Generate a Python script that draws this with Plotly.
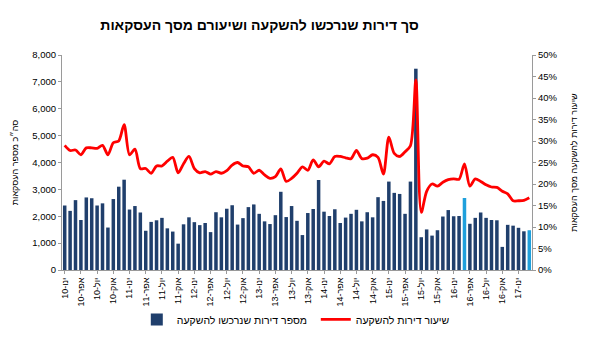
import plotly.graph_objects as go

month_names = ["ינו", "פבר", "מרץ", "אפר", "מאי", "יונ", "יול", "אוג", "ספט", "אוק", "נוב", "דצמ"]
years = ["10", "11", "12", "13", "14", "15", "16", "17"]
categories = [f"{m}-{y}" for y in years for m in month_names][:87]

investor_units = [
    2400, 2200, 2600, 1860, 2700, 2670, 2400, 2480, 1580, 2640, 3100, 3360,
    2250, 2380, 2140, 1460, 1790, 1850, 1940, 1550, 1430, 980, 1700, 1960,
    1780, 1670, 1750, 1410, 2150, 1960, 2280, 2410, 1690, 1930, 2340, 2440,
    2090, 1810, 1710, 2040, 2910, 1970, 2380, 1830, 1300, 2120, 2270, 3350,
    2170, 2010, 2260, 1750, 1950, 2090, 2240, 1810, 2150, 1960, 2710, 2570,
    3290, 2870, 2830, 2090, 3290, 7490, 1220, 1510, 1280, 1480, 1990, 2230,
    2000, 2010, 2680, 1720, 1940, 2140, 1940, 1860, 1850, 860, 1680, 1650,
    1570, 1440, 1480,
]

investor_share = [
    29.0, 27.8, 27.9, 26.8, 28.4, 28.4, 28.3, 29.0, 26.8, 29.6, 30.0, 33.8,
    26.8, 28.1, 23.6, 23.6, 22.5, 24.2, 24.2, 25.3, 26.2, 22.6, 24.7, 26.4,
    23.6, 22.6, 22.9, 22.3, 22.9, 22.5, 23.1, 24.4, 25.0, 24.2, 24.0, 22.5,
    23.2, 22.1, 21.3, 21.7, 23.5, 20.6, 21.3, 22.5, 24.0, 23.2, 25.6, 24.0,
    25.3, 24.7, 26.4, 26.4, 26.1, 25.9, 27.8, 25.9, 26.0, 26.8, 26.2, 22.3,
    30.9, 27.1, 26.4, 27.5, 28.9, 44.2, 13.4, 18.3, 20.0, 19.5, 20.4, 21.0,
    21.2, 21.1, 24.7, 19.5, 21.2, 20.6, 19.8, 19.3, 19.2, 18.3, 17.7, 16.1,
    16.1, 16.2, 16.8,
]

highlighted = ["מרץ-16", "מרץ-17"]
tick_labels = categories[::3]

NAVY = "#203f6c"
LIGHT = "#1fa0dc"
bar_colors = [LIGHT if c in highlighted else NAVY for c in categories]

fig = go.Figure()
fig.add_trace(go.Bar(
    x=categories, y=investor_units, name="מספר דירות שנרכשו להשקעה",
    marker=dict(color=bar_colors, line=dict(width=0)),
    yaxis="y",
))
fig.add_trace(go.Scatter(
    x=categories, y=investor_share, name="שיעור דירות להשקעה",
    mode="lines", line=dict(color="#ff0000", width=2.8, shape="spline", smoothing=0.8),
    yaxis="y2",
))

font_family = "Liberation Sans, Arial, sans-serif"
fig.update_layout(
    width=590, height=346,
    margin=dict(l=62, r=54, t=55, b=70),
    paper_bgcolor="white", plot_bgcolor="white",
    font=dict(family=font_family, size=9, color="#000000"),
    title=dict(text="<b>סך דירות שנרכשו להשקעה ושיעורם מסך העסקאות</b>",
               x=0.44, xanchor="center", y=0.928, yanchor="middle",
               font=dict(size=14, family=font_family, color="#000")),
    bargap=0.35,
    showlegend=True,
    legend=dict(orientation="h", x=0.54, xanchor="center", y=-0.23, yanchor="middle",
                font=dict(size=10.5), traceorder="normal", entrywidth=134,
                bgcolor="rgba(0,0,0,0)"),
    xaxis=dict(
        type="category", tickmode="array", tickvals=tick_labels, ticktext=tick_labels,
        tickangle=-90, showgrid=False, showline=True, linecolor="#9a9a9a",
        ticks="outside", ticklen=3, tickcolor="#9a9a9a", tickfont=dict(size=9),
    ),
    yaxis=dict(
        range=[0, 8000], dtick=1000, tickformat=",", showgrid=False, zeroline=False,
        showline=True, linecolor="#9a9a9a", ticks="outside", ticklen=3, tickcolor="#9a9a9a",
        tickfont=dict(size=9.5),
        title=dict(text="סה״כ מספר העסקאות", font=dict(size=9), standoff=12),
    ),
    yaxis2=dict(
        range=[0, 50], dtick=5, ticksuffix="%", overlaying="y", side="right",
        showgrid=False, zeroline=False, showline=True, linecolor="#9a9a9a",
        ticks="outside", ticklen=3, tickcolor="#9a9a9a", tickfont=dict(size=9.5),
        title=dict(text="שיעור דירות להשקעה מסך העסקאות", font=dict(size=9), standoff=14),
    ),
)

fig.write_html("out.html")
